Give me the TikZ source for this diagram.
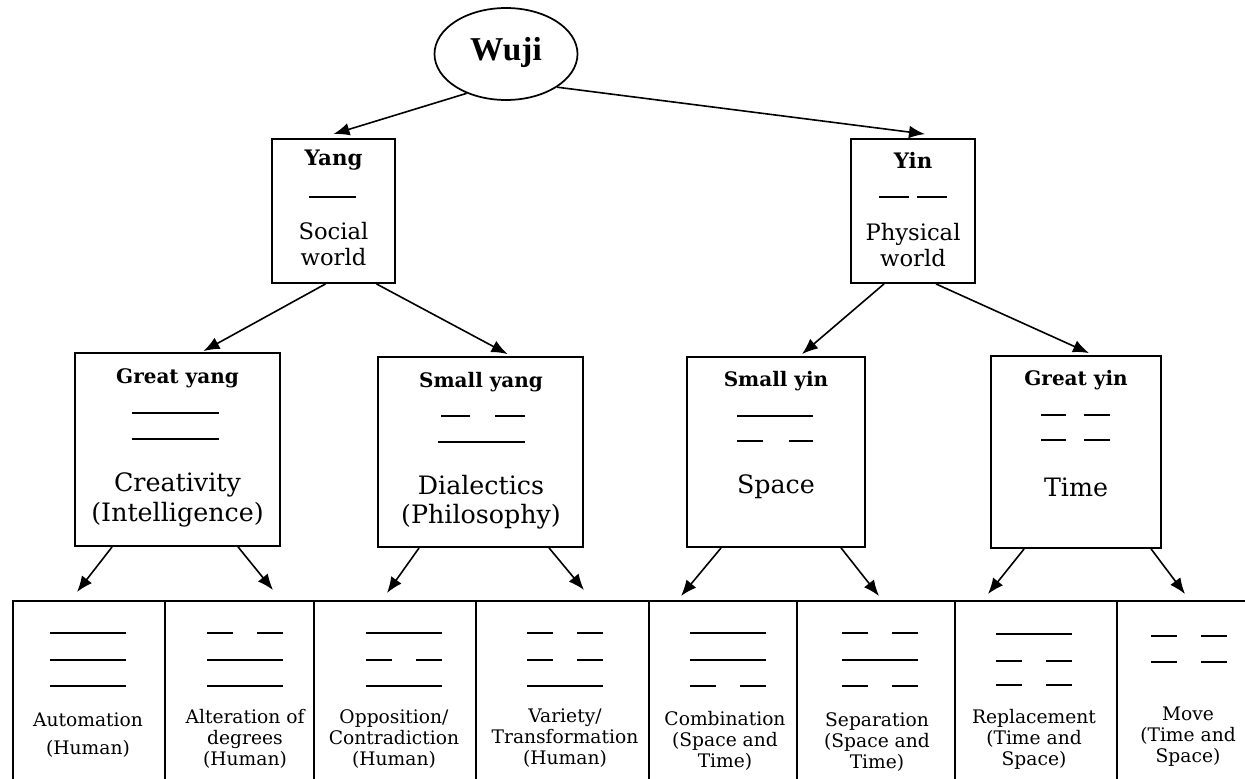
\documentclass[tikz,border=0pt]{standalone}
\usepackage{fontspec}
\setmainfont{DejaVu Serif}
\newfontfamily\wujifont{Liberation Serif}
\usetikzlibrary{arrows.meta,calc,shapes.geometric}
\newcommand\bsolid[2]{\draw[tri] (#1,#2) -- ++(76,0);}
\newcommand\bbroken[2]{\draw[tri] (#1,#2) -- ++(26,0) ({#1+50},#2) -- ++(26,0);}
\newcommand\msolid[3]{\draw[tri] (#1,#3) -- (#2,#3);}
\newcommand\mbroken[5]{\draw[tri] (#1,#5) -- (#2,#5) (#3,#5) -- (#4,#5);}
\begin{document}
\begin{tikzpicture}[x=0.75pt,y=-0.75pt,
  box/.style={draw,line width=1.4pt,inner sep=0pt},
  cell/.style={draw,line width=1.4pt,inner sep=0pt,anchor=north west,minimum height={200*0.75pt}},
  tri/.style={line width=1.6pt},
  arr/.style={line width=1.2pt,-{Latex[length=12pt,width=9.5pt]}},
  ttl/.style={font=\bfseries\fontsize{15}{18}\selectfont},
  mid/.style={font=\fontsize{19}{22}\selectfont,align=center},
  lbl/.style={font=\fontsize{14}{15.8}\selectfont,align=center}]
\clip (0,0) rectangle (1245,778);
\fill[white] (0,0) rectangle (1245,778);
% Wuji
\node[draw,ellipse,line width=1.3pt,minimum width={143*0.75pt},minimum height={92*0.75pt},inner sep=0pt] (wuji) at (506,54) {};
\node[font=\wujifont\bfseries\fontsize{25}{29}\selectfont] (wujit) at (506,52) {Wuji};
% Level 1
\node[box,minimum width={123*0.75pt},minimum height={144*0.75pt}] (yang) at (333.5,211) {};
\node[box,minimum width={124*0.75pt},minimum height={144*0.75pt}] (yin) at (913,211) {};
\node[font=\bfseries\fontsize{16}{19}\selectfont] (yangt) at (333.5,160) {Yang};
\node[font=\bfseries\fontsize{16}{19}\selectfont] (yint) at (913,160) {Yin};
\msolid{309}{356}{197}
\mbroken{879}{909}{917}{947}{197}
\node[font=\fontsize{17}{20}\selectfont,align=center] (yangw) at (333.5,244) {Social\\world};
\node[font=\fontsize{17}{20}\selectfont,align=center] (yinw) at (913,245) {Physical\\world};
% Level 2
\node[box,minimum width={205*0.75pt},minimum height={193*0.75pt}] (gy) at (177.5,449.5) {};
\node[box,minimum width={205*0.75pt},minimum height={190*0.75pt}] (sy) at (480.5,452) {};
\node[box,minimum width={178*0.75pt},minimum height={190*0.75pt}] (si) at (776,452) {};
\node[box,minimum width={170*0.75pt},minimum height={192*0.75pt}] (gi) at (1076,452) {};
\node[ttl] (gyt) at (177.5,378) {Great yang};
\node[ttl] (syt) at (481,382) {Small yang};
\node[ttl] (sit) at (776,381) {Small yin};
\node[ttl] (git) at (1076,380) {Great yin};
\msolid{132}{219}{413}
\msolid{132}{219}{439}
\mbroken{441}{470}{495}{525}{416}
\msolid{438}{525}{442}
\msolid{737}{813}{416}
\mbroken{737}{763}{789}{813}{441}
\mbroken{1041}{1066}{1084}{1110}{415}
\mbroken{1041}{1066}{1084}{1110}{440}
\node[mid] (gyw) at (177.5,500) {Creativity\\(Intelligence)};
\node[mid] (syw) at (481,502) {Dialectics\\(Philosophy)};
\node[mid] (siw) at (776,487) {Space};
\node[mid] (giw) at (1076,487) {Time};
% Level 3 cells
\node[cell,minimum width={152*0.75pt}] (c1) at (12,600) {};
\node[cell,minimum width={149*0.75pt}] (c2) at (164,600) {};
\node[cell,minimum width={162*0.75pt}] (c3) at (313,600) {};
\node[cell,minimum width={173*0.75pt}] (c4) at (475,600) {};
\node[cell,minimum width={148*0.75pt}] (c5) at (648,600) {};
\node[cell,minimum width={158*0.75pt}] (c6) at (796,600) {};
\node[cell,minimum width={162*0.75pt}] (c7) at (954,600) {};
\node[cell,minimum width={160*0.75pt}] (c8) at (1116,600) {};
% trigrams
\bsolid{50}{633}\bsolid{50}{660}\bsolid{50}{686}
\bbroken{207}{633}\bsolid{207}{660}\bsolid{207}{686}
\bsolid{366}{633}\bbroken{366}{660}\bsolid{366}{686}
\bbroken{527}{633}\bbroken{527}{660}\bsolid{527}{686}
\bsolid{690}{633}\bsolid{690}{660}\bbroken{690}{686}
\bbroken{842}{633}\bsolid{842}{660}\bbroken{842}{686}
\bsolid{996}{634}\bbroken{996}{661}\bbroken{996}{685}
\bbroken{1151}{636}\bbroken{1151}{662}
% labels
\node[lbl] (l1) at (88,735) {Automation\\[5pt](Human)};
\node[lbl] (l2) at (245,739) {Alteration of\\degrees\\(Human)};
\node[lbl] (l3) at (394,739) {Opposition/\\Contradiction\\(Human)};
\node[lbl] (l4) at (565,738) {Variety/\\Transformation\\(Human)};
\node[lbl] (l5) at (725,741) {Combination\\(Space and\\Time)};
\node[lbl] (l6) at (877,742) {Separation\\(Space and\\Time)};
\node[lbl] (l7) at (1034,739) {Replacement\\(Time and\\Space)};
\node[lbl] (l8) at (1188,737) {Move\\(Time and\\Space)};
% arrows
\draw[arr] (wuji.-135) -- ($(yang.north)+(0,-4)$);
\draw[arr] (wuji.-33) -- ($(yin.north)+(12,-4)$);
\draw[arr] ($(yang.south)+(-8,0)$) -- ($(gy.north)+(26,-1)$);
\draw[arr] ($(yang.south)+(43,0)$) -- ($(sy.north)+(27,-2)$);
\draw[arr] ($(yin.south)+(-29,0)$) -- ($(si.north)+(26,-2)$);
\draw[arr] ($(yin.south)+(23,0)$) -- ($(gi.north)+(13,-2)$);
\draw[arr] ($(gy.south west)+(38,0)$) -- ($(c1.north west)+(65,-8)$);
\draw[arr] ($(gy.south west)+(164,0)$) -- ($(c2.north west)+(109,-10)$);
\draw[arr] ($(sy.south west)+(42,0)$) -- ($(c3.north west)+(74,-7)$);
\draw[arr] ($(sy.south west)+(172,0)$) -- ($(c4.north west)+(109,-10)$);
\draw[arr] ($(si.south west)+(35,0)$) -- ($(c5.north west)+(33,-4)$);
\draw[arr] ($(si.south west)+(155,0)$) -- ($(c6.north west)+(83,-4)$);
\draw[arr] ($(gi.south west)+(34,0)$) -- ($(c7.north west)+(34,-6)$);
\draw[arr] ($(gi.south west)+(161,0)$) -- ($(c8.north west)+(69,-6)$);
\end{tikzpicture}
\end{document}
